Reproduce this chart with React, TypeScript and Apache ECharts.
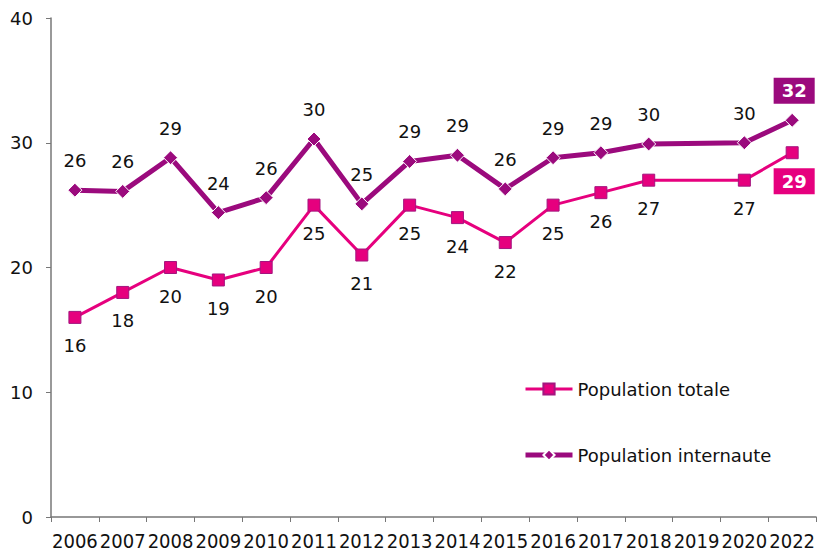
import React, { useEffect, useRef } from "react";
import * as echarts from "echarts";

const years = ["2006", "2007", "2008", "2009", "2010", "2011", "2012", "2013", "2014", "2015", "2016", "2017", "2018", "2019", "2020", "2022"];
const totale: (number | null)[] = [16, 18, 20, 19, 20, 25, 21, 25, 24, 22, 25, 26, 27, null, 27, 29.2];
const internaute: (number | null)[] = [26.2, 26.1, 28.8, 24.4, 25.6, 30.3, 25.1, 28.5, 29.0, 26.3, 28.8, 29.2, 29.9, null, 30.0, 31.8];
const yTicks = { min: 0, max: 40, interval: 10 };

const PINK = "#e6007e";
const PURPLE = "#9b0a7d";
const FONT = "DejaVu Sans, Verdana, sans-serif";

export default function App() {
  const ref = useRef<HTMLDivElement>(null);
  useEffect(() => {
    document.body.style.margin = "0";
    document.body.style.overflow = "hidden";
    document.documentElement.style.overflow = "hidden";
    if (!ref.current) return;
    const chart = echarts.init(ref.current, null, { renderer: "svg" });
    const last = years.length - 1;
    const mk = (arr: (number | null)[], isLast: (i: number) => boolean, boxColor: string, pos: string) =>
      arr.map((v, i) =>
        isLast(i)
          ? {
              value: v,
              label: {
                show: true,
                position: pos,
                distance: 9,
                offset: [2, 0],
                color: "#fff",
                fontWeight: "bold",
                backgroundColor: boxColor,
                padding: [4, 8, 4, 8],
              },
            }
          : v
      );
    chart.setOption({
      animation: false,
      grid: { left: 51, right: 0, top: 18, bottom: 35, containLabel: false },
      legend: {
        orient: "vertical",
        left: 523,
        top: 380,
        padding: 0,
        itemGap: 48,
        itemWidth: 47,
        itemHeight: 14,
        textStyle: { fontFamily: FONT, fontSize: 18, color: "#111" },
        data: [
          { name: "Population totale", lineStyle: { width: 3 } },
          { name: "Population internaute", lineStyle: { width: 5 } },
        ],
      },
      xAxis: {
        type: "category",
        data: years,
        boundaryGap: true,
        axisLine: { lineStyle: { color: "#777", width: 1.5 } },
        axisTick: { show: true, interval: 0, length: 5, lineStyle: { color: "#777" } },
        axisLabel: {
          interval: 0,
          fontFamily: "DejaVu Sans Condensed, DejaVu Sans, sans-serif",
          fontSize: 20,
          color: "#111",
          margin: 14,
        },
        splitLine: { show: false },
      },
      yAxis: {
        type: "value",
        min: yTicks.min,
        max: yTicks.max,
        interval: yTicks.interval,
        axisLine: { show: true, lineStyle: { color: "#777", width: 1.5 } },
        axisTick: { show: true, length: 5, lineStyle: { color: "#777" } },
        axisLabel: { fontFamily: FONT, fontSize: 18, color: "#111", margin: 18 },
        splitLine: { show: false },
      },
      series: [
        {
          name: "Population totale",
          type: "line",
          connectNulls: true,
          data: mk(totale, (i) => i === last, PINK, "bottom"),
          lineStyle: { color: PINK, width: 3 },
          itemStyle: { color: PINK, borderColor: "#a3157f", borderWidth: 1 },
          symbol: "rect",
          symbolSize: 12,
          z: 3,
          label: {
            show: true,
            position: "bottom",
            distance: 13,
            fontFamily: FONT,
            fontSize: 18,
            color: "#111",
            formatter: (p: any) => String(Math.round(p.value)),
          },
        },
        {
          name: "Population internaute",
          type: "line",
          connectNulls: true,
          data: mk(internaute, (i) => i === last, PURPLE, "top"),
          lineStyle: { color: PURPLE, width: 5 },
          itemStyle: { color: PURPLE, borderColor: "#fff", borderWidth: 1 },
          symbol: "diamond",
          symbolSize: 14,
          z: 2,
          label: {
            show: true,
            position: "top",
            distance: 13,
            fontFamily: FONT,
            fontSize: 18,
            color: "#111",
            formatter: (p: any) => String(Math.round(p.value)),
          },
        },
      ],
    });
    return () => chart.dispose();
  }, []);
  return <div ref={ref} style={{ position: "absolute", left: 0, top: 0, width: 818, height: 552 }} />;
}
